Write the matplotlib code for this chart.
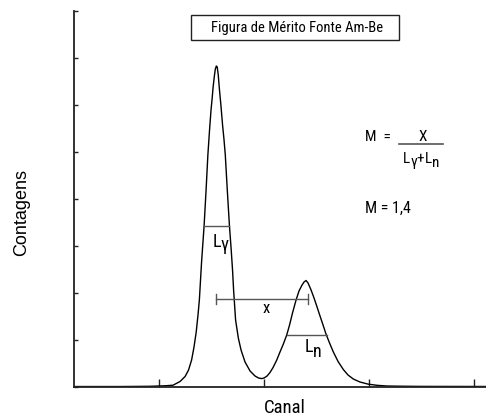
import matplotlib
matplotlib.use("Agg")
import matplotlib.pyplot as plt
from matplotlib.patches import Rectangle

COND = ['Roboto Condensed', 'Liberation Sans', 'DejaVu Sans']
REG = ['Liberation Sans', 'DejaVu Sans']
plt.rcParams['font.family'] = COND

# Spectrum (channel, counts in tick units)
canal = [19.0, 62.9, 91.4, 105.7, 113.3, 120.0, 124.8, 128.1, 131.0, 133.3,
         135.4, 137.1, 138.4, 140.5, 142.9, 144.8, 146.5, 148.1, 149.5, 150.7,
         151.4, 152.7, 153.6, 154.6, 155.4, 156.4, 157.4, 158.9, 160.5, 161.9,
         163.1, 165.0, 167.0, 168.6, 170.0, 171.0, 172.9, 175.5, 178.1, 181.9,
         186.7, 191.4, 194.8, 197.8, 200.0, 202.9, 205.7, 208.6, 212.1, 215.2,
         218.4, 221.6, 224.3, 227.1, 230.5, 233.3, 236.2, 238.1, 240.0, 241.9,
         244.8, 247.6, 250.5, 253.3, 256.2, 259.0, 262.4, 266.0, 270.5, 275.5,
         280.0, 285.0, 291.4, 299.3, 307.6, 316.9, 329.5, 348.6, 411.4]
contagens = [0.010, 0.010, 0.015, 0.026, 0.038, 0.117, 0.223, 0.362, 0.574, 0.851,
             1.170, 1.532, 1.851, 2.660, 3.426, 4.191, 4.936, 5.468, 5.894, 6.170,
             6.362, 6.617, 6.766, 6.830, 6.809, 6.638, 6.362, 6.000, 5.574, 5.255,
             4.936, 4.191, 3.447, 2.957, 2.489, 2.064, 1.426, 1.043, 0.787, 0.532,
             0.340, 0.234, 0.191, 0.179, 0.191, 0.234, 0.309, 0.415, 0.574, 0.745,
             0.915, 1.106, 1.319, 1.574, 1.851, 2.043, 2.170, 2.234, 2.266, 2.213,
             2.064, 1.894, 1.702, 1.511, 1.319, 1.128, 0.936, 0.745, 0.543, 0.372,
             0.255, 0.170, 0.106, 0.060, 0.036, 0.021, 0.017, 0.013, 0.011]

x_ticks = [100, 200, 300, 400]
y_ticks = [0, 1, 2, 3, 4, 5, 6, 7, 8]

# Annotation values
lg_x = [142.9, 167.0]
lg_y = 3.43
ln_x = [221.6, 259.5]
ln_y = 1.11
sep_x = [154.0, 241.4]
sep_y = 1.87

fig = plt.figure(figsize=(4.86, 4.16), dpi=100)
ax = fig.add_axes([74/486, 29/416, 412/486, 376/416])

ax.plot(canal, contagens, color='black', lw=1.0)
ax.set_xlim(19.0, 411.4)
ax.set_ylim(0, 8)
ax.set_xticks(x_ticks)
ax.set_yticks(y_ticks)
ax.set_xticklabels([])
ax.set_yticklabels([])
ax.tick_params(axis='x', direction='in', length=6, width=1, color='#222222')
ax.tick_params(axis='y', direction='in', length=3, width=1, color='#222222')
for s in ['top', 'right']:
    ax.spines[s].set_visible(False)
for s in ['left', 'bottom']:
    ax.spines[s].set_linewidth(1.3)
    ax.spines[s].set_color('#222222')

gray = '#555555'
ax.plot(lg_x, [lg_y, lg_y], color=gray, lw=1)
ax.plot(ln_x, [ln_y, ln_y], color=gray, lw=1)
ax.plot(sep_x, [sep_y, sep_y], color=gray, lw=1)
for xv in sep_x:
    ax.plot([xv, xv], [sep_y - 0.11, sep_y + 0.11], color=gray, lw=1)

fs = 13
# L gamma
ax.text(151.0, 2.98, 'L', fontsize=fs, ha='left', va='baseline')
ax.text(158.6, 2.92, 'γ', fontsize=fs, ha='left', va='baseline')
# L n
ax.text(239.0, 0.75, 'L', fontsize=fs, ha='left', va='baseline')
ax.text(246.8, 0.645, 'n', fontsize=fs, ha='left', va='baseline')
# x
ax.text(202.4, 1.66, 'x', fontsize=12, ha='center', va='center')

# Formula
ffs = 11
ax.text(296.2, 5.23, 'M  =', fontsize=ffs, ha='left', va='baseline')
ax.text(351.0, 5.23, 'X', fontsize=ffs, ha='center', va='baseline')
ax.plot([328.6, 370.5], [5.18, 5.18], color=gray, lw=1.2)
ax.text(332.1, 4.77, 'L', fontsize=ffs, ha='left', va='baseline')
ax.text(339.3, 4.70, 'γ', fontsize=ffs, ha='left', va='baseline')
ax.text(345.2, 4.77, '+', fontsize=ffs, ha='left', va='baseline')
ax.text(353.2, 4.77, 'L', fontsize=ffs, ha='left', va='baseline')
ax.text(360.2, 4.68, 'n', fontsize=ffs, ha='left', va='baseline')
ax.text(296.2, 3.70, 'M = 1,4', fontsize=11.5, ha='left', va='baseline')

# Title box
ax.add_patch(Rectangle((0.284, 0.923), 0.505, 0.066, transform=ax.transAxes,
                       fill=False, edgecolor='#222222', lw=1, clip_on=False))
ax.text(0.541, 0.956, 'Figura de Mérito Fonte Am-Be', transform=ax.transAxes,
        fontsize=10.5, ha='center', va='center')

fig.text(0.044, 0.489, 'Contagens', rotation=90, fontsize=13, ha='center', va='center',
         family=REG)
fig.text(0.586, 0.042, 'Canal', fontsize=13.5, ha='center', va='top')

fig.savefig('out.png', dpi=100)
